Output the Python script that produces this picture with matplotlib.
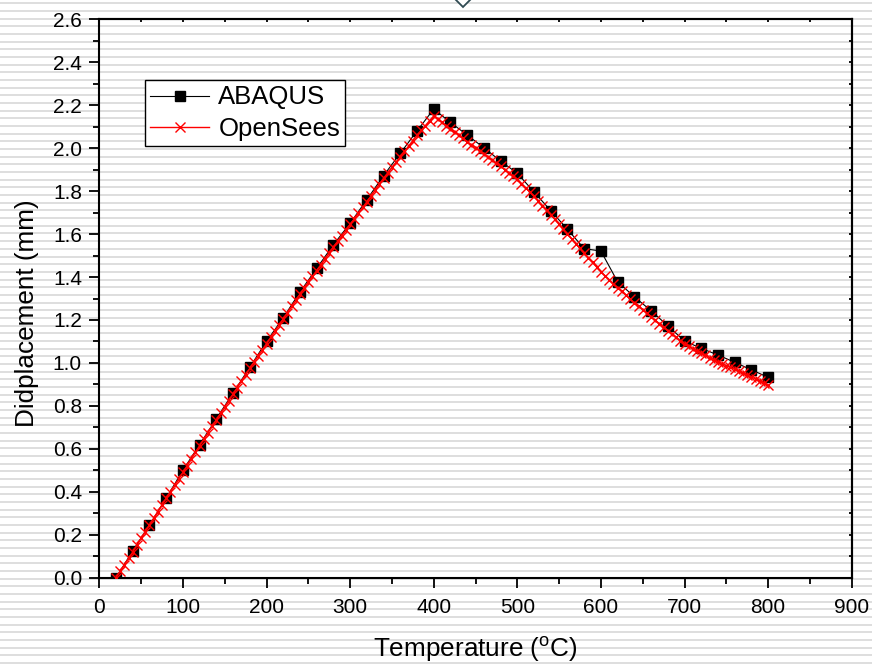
import matplotlib
matplotlib.use('Agg')
import matplotlib.pyplot as plt
from matplotlib.lines import Line2D
from matplotlib.ticker import MultipleLocator, FormatStrFormatter

plt.rcParams["font.family"] = ["Liberation Sans", "DejaVu Sans"]
plt.rcParams["mathtext.default"] = "regular"

# ABAQUS results, every 20 C
temp_abaqus = list(range(20, 801, 20))
disp_abaqus = [
    0.00, 0.125, 0.245, 0.37, 0.50, 0.62, 0.74, 0.86, 0.98, 1.10,
    1.21, 1.33, 1.44, 1.55, 1.65, 1.76, 1.872, 1.976, 2.08, 2.182,
    2.12, 2.061, 2.002, 1.94, 1.883, 1.796, 1.709, 1.622, 1.532, 1.521,
    1.378, 1.308, 1.243, 1.173, 1.102, 1.068, 1.037, 1.003, 0.968, 0.933,
]

# OpenSees results, every 5 C
temp_opensees = list(range(20, 801, 5))
disp_opensees = [
    0.00, 0.03, 0.06, 0.09, 0.12,
    0.151, 0.183, 0.214, 0.245,
    0.276, 0.308, 0.339, 0.37,
    0.40, 0.43, 0.46, 0.49,
    0.521, 0.553, 0.584, 0.615,
    0.645, 0.675, 0.705, 0.735,
    0.765, 0.795, 0.825, 0.855,
    0.885, 0.915, 0.945, 0.975,
    1.004, 1.033, 1.061, 1.09,
    1.119, 1.148, 1.176, 1.205,
    1.234, 1.263, 1.291, 1.32,
    1.348, 1.375, 1.403, 1.43,
    1.458, 1.485, 1.513, 1.54,
    1.566, 1.593, 1.619, 1.645,
    1.671, 1.698, 1.724, 1.75,
    1.778, 1.805, 1.833, 1.86,
    1.885, 1.91, 1.935, 1.96,
    1.985, 2.01, 2.035, 2.06,
    2.083, 2.105, 2.128, 2.15,
    2.135, 2.12, 2.105, 2.09,
    2.075, 2.06, 2.045, 2.03,
    2.016, 2.003, 1.989, 1.975,
    1.96, 1.945, 1.93, 1.915,
    1.90, 1.885, 1.87, 1.855,
    1.835, 1.815, 1.795, 1.775,
    1.754, 1.733, 1.711, 1.69,
    1.668, 1.645, 1.623, 1.60,
    1.578, 1.555, 1.533, 1.51,
    1.489, 1.468, 1.446, 1.425,
    1.406, 1.388, 1.369, 1.35,
    1.333, 1.315, 1.298, 1.28,
    1.264, 1.248, 1.231, 1.215,
    1.199, 1.183, 1.166, 1.15,
    1.135, 1.12, 1.104, 1.09,
    1.078, 1.067, 1.056, 1.045,
    1.035, 1.025, 1.015, 1.005,
    0.996, 0.988, 0.979, 0.97,
    0.961, 0.953, 0.944, 0.935,
    0.925, 0.915, 0.905, 0.895,
]

W, H = 872, 667
fig = plt.figure(figsize=(W / 100, H / 100), dpi=100, facecolor="white")

# striped page background
bg = fig.add_axes([0, 0, 1, 1], zorder=-10)
bg.set_xlim(0, W)
bg.set_ylim(H, 0)
bg.axis("off")
y = 3.4
while y < H + 5:
    bg.axhline(y, color="#dedede", lw=1.4)
    y += 7.67

ax = fig.add_axes([99.3 / W, 1 - 577.7 / H, (851.7 - 99.3) / W, (577.7 - 19.3) / H])
ax.set_facecolor("none")

ax.plot(temp_opensees, disp_opensees, color="red", lw=1.0, marker="x",
        ms=7.5, mew=1.0, label="OpenSees", zorder=3)
ax.plot(temp_abaqus, disp_abaqus, color="black", lw=0.8, marker="s",
        ms=7.7, mfc="black", mec="black", label="ABAQUS", zorder=2)

ax.set_xlim(0, 900)
ax.set_ylim(0, 2.6)
ax.xaxis.set_major_locator(MultipleLocator(100))
ax.xaxis.set_minor_locator(MultipleLocator(50))
ax.yaxis.set_major_locator(MultipleLocator(0.2))
ax.yaxis.set_minor_locator(MultipleLocator(0.1))
ax.yaxis.set_major_formatter(FormatStrFormatter("%.1f"))

for s in ax.spines.values():
    s.set_linewidth(1.5)
ax.tick_params(which="major", direction="out", length=7.5, width=1.3,
               labelsize=15, pad=5)
ax.tick_params(which="minor", direction="out", length=4, width=1.3)
ax.tick_params(axis="x", which="major", pad=7)

# inward ticks on top and right
top = ax.secondary_xaxis("top")
top.xaxis.set_major_locator(MultipleLocator(50))
top.tick_params(direction="in", length=2.5, width=1.3, labeltop=False)
right = ax.secondary_yaxis("right")
right.yaxis.set_major_locator(MultipleLocator(0.1))
right.tick_params(direction="in", length=2.5, width=1.3, labelright=False)
top.spines["top"].set_linewidth(1.5)
right.spines["right"].set_linewidth(1.5)

ax.set_xlabel("Temperature ($^{o}$C)", fontsize=18.8)
ax.set_ylabel("Didplacement (mm)", fontsize=18.8)
ax.xaxis.set_label_coords(0.5, -0.102)
ax.yaxis.set_label_coords(-0.08, 0.474)

handles, labels = ax.get_legend_handles_labels()
leg = ax.legend(handles[::-1], labels[::-1], loc="upper left",
                bbox_to_anchor=(0.061, 0.891), borderaxespad=0,
                fontsize=18.5, frameon=True, fancybox=False, edgecolor="black",
                framealpha=1, handlelength=2.3, handletextpad=0.35,
                borderpad=0.2, labelspacing=0.3, handleheight=0.6)
leg.get_frame().set_linewidth(1.0)

# small open diamond cut off at the top edge
fig.add_artist(Line2D([462.7 / W], [1 + 0.7 / H], transform=fig.transFigure,
                      marker="D", ms=8, mfc="white", mec="#2f4a52",
                      mew=1.3, ls="none", clip_on=False))

fig.savefig("out.png", dpi=100, facecolor="white")
